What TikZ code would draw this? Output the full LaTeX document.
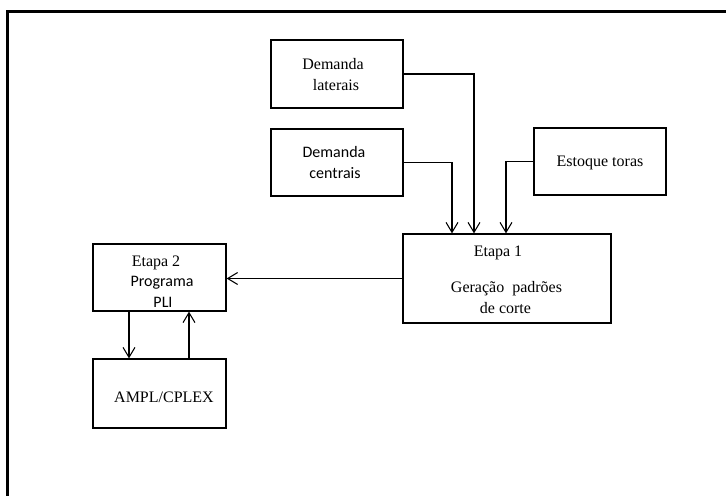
\documentclass[tikz,border=0pt]{standalone}
\usepackage{fontspec}
\setmainfont{Liberation Serif}
\newfontfamily\timesf{Liberation Serif}
\newfontfamily\calib{Carlito}
\usetikzlibrary{arrows.meta}
\begin{document}
\begin{tikzpicture}[x=0.75pt,y=-0.75pt,
  box/.style={draw=black,line width=0.9pt,rectangle,inner sep=0pt},
  serif/.style={font=\timesf\fontsize{12}{14}\selectfont,inner sep=0pt,text=black},
  sans/.style={font=\calib\fontsize{12}{14}\selectfont,inner sep=0pt,text=black},
  link/.style={draw=black,line width=0.8pt,-{Straight Barb[length=7.5pt,width=9pt,line width=0.8pt]}}]
  % canvas and outer frame
  \useasboundingbox (0,0) rectangle (726,496);
  \fill[white] (0,0) rectangle (726,496);
  \draw[line width=1.6pt] (7.5,496) -- (7.5,11.5) -- (726,11.5);

  % boxes
  \node[box,minimum width={132*0.75pt},minimum height={68*0.75pt}] (lat) at (337,74) {};
  \node[box,minimum width={132*0.75pt},minimum height={67*0.75pt}] (cen) at (337,162.5) {};
  \node[box,minimum width={132*0.75pt},minimum height={67*0.75pt}] (est) at (600,161.5) {};
  \node[box,minimum width={208*0.75pt},minimum height={89*0.75pt}] (e1) at (507,278.5) {};
  \node[box,minimum width={133*0.75pt},minimum height={67*0.75pt}] (e2) at (159.5,277.5) {};
  \node[box,minimum width={133*0.75pt},minimum height={69*0.75pt}] (ampl) at (159.5,393.5) {};

  % labels
  \node[serif] (latA) at (333,64) {Demanda};
  \node[serif] (latB) at (336,85) {laterais};
  \node[sans] (cenA) at (334,152) {Demanda};
  \node[sans] (cenB) at (335,173) {centrais};
  \node[serif] (estA) at (600,163) {Estoque toras};
  \node[serif] (e1A) at (498,253) {Etapa 1};
  \node[serif] (e1B) at (506.5,289) {Geração\ \ padrões};
  \node[serif] (e1C) at (505.5,308) {de corte};
  \node[serif] (e2A) at (156,263) {Etapa 2};
  \node[sans] (e2B) at (162,283) {Programa};
  \node[sans] (e2C) at (163,302) {PLI};
  \node[serif] (amplA) at (164,397) {AMPL/CPLEX};

  % connectors
  \draw[link] (lat.east) -| ([xshift=-33*0.75pt]e1.north);
  \draw[link] (cen.east) -| ([xshift=-55*0.75pt]e1.north);
  \draw[link] (est.west) -| ([xshift=-1*0.75pt]e1.north);
  \draw[link] (e1.west) -- (e1.west -| e2.east);
  \draw[link] ([xshift=-30.5*0.75pt]e2.south) -- ([xshift=-30.5*0.75pt]ampl.north);
  \draw[link] ([xshift=29.5*0.75pt]ampl.north) -- ([xshift=29.5*0.75pt]e2.south);
\end{tikzpicture}
\end{document}
